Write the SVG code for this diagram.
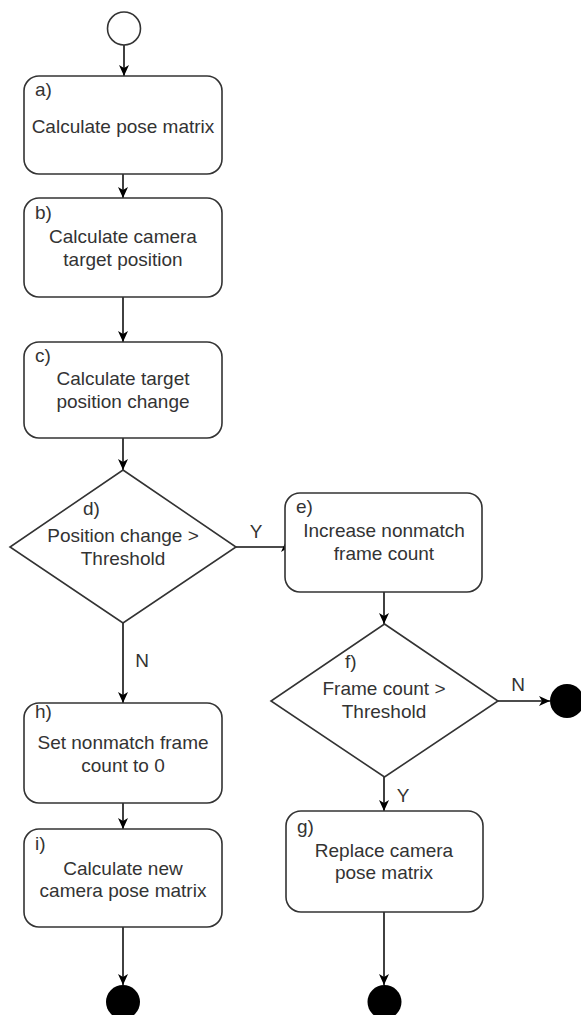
<svg xmlns="http://www.w3.org/2000/svg" width="581" height="1015" viewBox="0 0 581 1015">
<style>
.box{fill:#fff;stroke:#333;stroke-width:1.6}
.t{font-family:"Liberation Sans",Arial,sans-serif;font-size:19px;fill:#333}
.c{text-anchor:middle}
.edge{fill:none;stroke:#111;stroke-width:1.6}
.end{fill:#000}
</style>
<defs>
<marker id="arr" markerUnits="userSpaceOnUse" markerWidth="12" markerHeight="12" refX="11" refY="5" orient="auto" viewBox="0 0 12 10">
<path d="M0,0 L11,5 L0,10 L3,5 z" fill="#000"/>
</marker>
</defs>
<rect width="581" height="1015" fill="#fff"/>
<g id="connectors">
<path class="edge" d="M124,45 V76" marker-end="url(#arr)"/>
<path class="edge" d="M123,174 V198" marker-end="url(#arr)"/>
<path class="edge" d="M123,297 V342" marker-end="url(#arr)"/>
<path class="edge" d="M123,438 V470" marker-end="url(#arr)"/>
<path class="edge" d="M236,547 H286 V541" marker-end="url(#arr)"/>
<text class="t c" x="256" y="538">Y</text>
<path class="edge" d="M384,592 V624" marker-end="url(#arr)"/>
<path class="edge" d="M498,701 H550" marker-end="url(#arr)"/>
<text class="t c" x="518" y="691">N</text>
<path class="edge" d="M384,777 V811" marker-end="url(#arr)"/>
<text class="t c" x="403" y="802">Y</text>
<path class="edge" d="M384,912 V985" marker-end="url(#arr)"/>
<path class="edge" d="M123,623 V703" marker-end="url(#arr)"/>
<text class="t c" x="142" y="667">N</text>
<path class="edge" d="M123,803 V829" marker-end="url(#arr)"/>
<path class="edge" d="M123,927 V985" marker-end="url(#arr)"/>
</g>
<g id="start"><circle cx="124" cy="28.5" r="16.5" fill="#fff" stroke="#333" stroke-width="1.6"/></g>
<g id="a">
<rect class="box" x="24" y="76" width="198" height="98" rx="15"/>
<text class="t" x="35" y="96">a)</text>
<text class="t c" x="123" y="133">Calculate pose matrix</text>
</g>
<g id="b">
<rect class="box" x="24" y="198" width="198" height="99" rx="15"/>
<text class="t" x="35" y="219">b)</text>
<text class="t c" x="123" y="243">Calculate camera</text>
<text class="t c" x="123" y="266">target position</text>
</g>
<g id="c">
<rect class="box" x="24" y="342" width="198" height="96" rx="15"/>
<text class="t" x="35" y="362">c)</text>
<text class="t c" x="123" y="385">Calculate target</text>
<text class="t c" x="123" y="408">position change</text>
</g>
<g id="d">
<polygon class="box" points="123,470 236,547 123,623 10,547"/>
<text class="t" x="83" y="515">d)</text>
<text class="t c" x="123" y="542">Position change &gt;</text>
<text class="t c" x="123" y="565">Threshold</text>
</g>
<g id="e">
<rect class="box" x="285" y="493" width="197" height="99" rx="15"/>
<text class="t" x="296" y="513">e)</text>
<text class="t c" x="384" y="537">Increase nonmatch</text>
<text class="t c" x="384" y="560">frame count</text>
</g>
<g id="f">
<polygon class="box" points="384.5,624 498,701 384.5,777 271,701"/>
<text class="t" x="345" y="668">f)</text>
<text class="t c" x="384" y="695">Frame count &gt;</text>
<text class="t c" x="384" y="718">Threshold</text>
</g>
<g id="end_f"><circle class="end" cx="567" cy="701" r="17"/></g>
<g id="g">
<rect class="box" x="286" y="811" width="197" height="101" rx="15"/>
<text class="t" x="297" y="833">g)</text>
<text class="t c" x="384" y="857">Replace camera</text>
<text class="t c" x="384" y="879">pose matrix</text>
</g>
<g id="end_g"><circle class="end" cx="384.5" cy="1002" r="17"/></g>
<g id="h">
<rect class="box" x="24" y="703" width="198" height="100" rx="15"/>
<text class="t" x="35" y="718">h)</text>
<text class="t c" x="123" y="749">Set nonmatch frame</text>
<text class="t c" x="123" y="772">count to 0</text>
</g>
<g id="i">
<rect class="box" x="24" y="829" width="198" height="98" rx="15"/>
<text class="t" x="35" y="850">i)</text>
<text class="t c" x="123" y="875">Calculate new</text>
<text class="t c" x="123" y="897">camera pose matrix</text>
</g>
<g id="end_i"><circle class="end" cx="123" cy="1002" r="17"/></g>
</svg>
